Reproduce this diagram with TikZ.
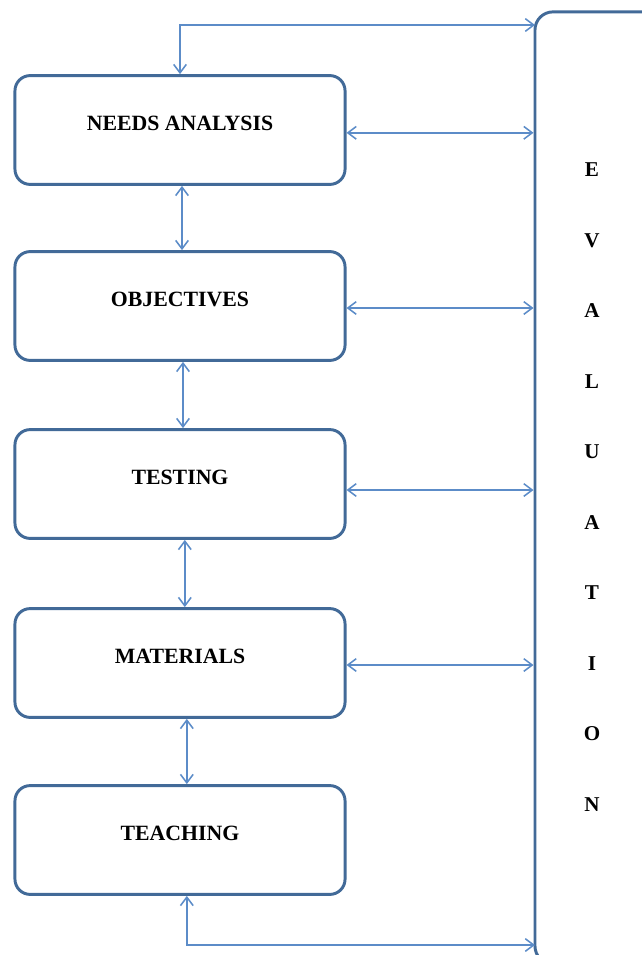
\documentclass[tikz,border=0pt]{standalone}
\usepackage{fontspec}
\setmainfont{Liberation Serif}
\usetikzlibrary{arrows.meta,positioning,calc}
\definecolor{boxblue}{RGB}{66,106,152}
\definecolor{arrowblue}{RGB}{92,140,200}

\begin{document}
\begin{tikzpicture}[x=0.025cm,y=-0.025cm,
    stage/.style={draw=boxblue,line width=2.1pt,rounded corners=0.38cm,fill=white,
      minimum width=8.25cm,minimum height=2.72cm,align=center,
      text height=0.37cm,text depth=0.35cm,font=\fontsize{15.5}{18}\selectfont\bfseries},
    evalbox/.style={draw=boxblue,line width=2.1pt,rounded corners=0.45cm,
      minimum width=3.75cm,minimum height=23.8cm},
    letter/.style={font=\fontsize{15}{18}\selectfont\bfseries},
    link/.style={draw=arrowblue,line width=1.1pt,{Straight Barb[length=6pt,width=9pt]}-{Straight Barb[length=6pt,width=9pt]}}
  ]
    \useasboundingbox (0,0) rectangle (641,955);

    % Stages of the course
    \node[stage] (na) at (180,130) {NEEDS ANALYSIS};
    \node[stage] (ob) at (180,306) {OBJECTIVES};
    \node[stage] (ts) at (180,484) {TESTING};
    \node[stage] (mt) at (180,663) {MATERIALS};
    \node[stage] (tc) at (180,840) {TEACHING};

    % Evaluation column
    \node[evalbox] (ev) at (610,488) {};
    \foreach \ch [count=\i from 0] in {E,V,A,L,U,A,T,I,O,N}
      \node[letter] (ev\i) at (592,170+70.5*\i) {\ch};

    % Links between stages
    \draw[link] ([xshift=0.05cm]na.south) -- ([xshift=0.05cm]ob.north);
    \draw[link] ([xshift=0.075cm]ob.south) -- ([xshift=0.075cm]ts.north);
    \draw[link] ([xshift=0.12cm]ts.south) -- ([xshift=0.12cm]mt.north);
    \draw[link] ([xshift=0.17cm]mt.south) -- ([xshift=0.17cm]tc.north);

    % Links to evaluation
    \coordinate (top) at (535,25);
    \coordinate (bot) at (535,945);
    \draw[link] (na.north) |- (top);
    \draw[link] ([yshift=-0.07cm]na.east) -- ([yshift=-0.07cm]na.east -| ev.west);
    \draw[link] ([yshift=-0.05cm]ob.east) -- ([yshift=-0.05cm]ob.east -| ev.west);
    \draw[link] ([yshift=-0.15cm]ts.east) -- ([yshift=-0.15cm]ts.east -| ev.west);
    \draw[link] ([yshift=-0.05cm]mt.east) -- ([yshift=-0.05cm]mt.east -| ev.west);
    \draw[link] ([xshift=0.17cm]tc.south) |- (bot);
  \end{tikzpicture}
\end{document}
